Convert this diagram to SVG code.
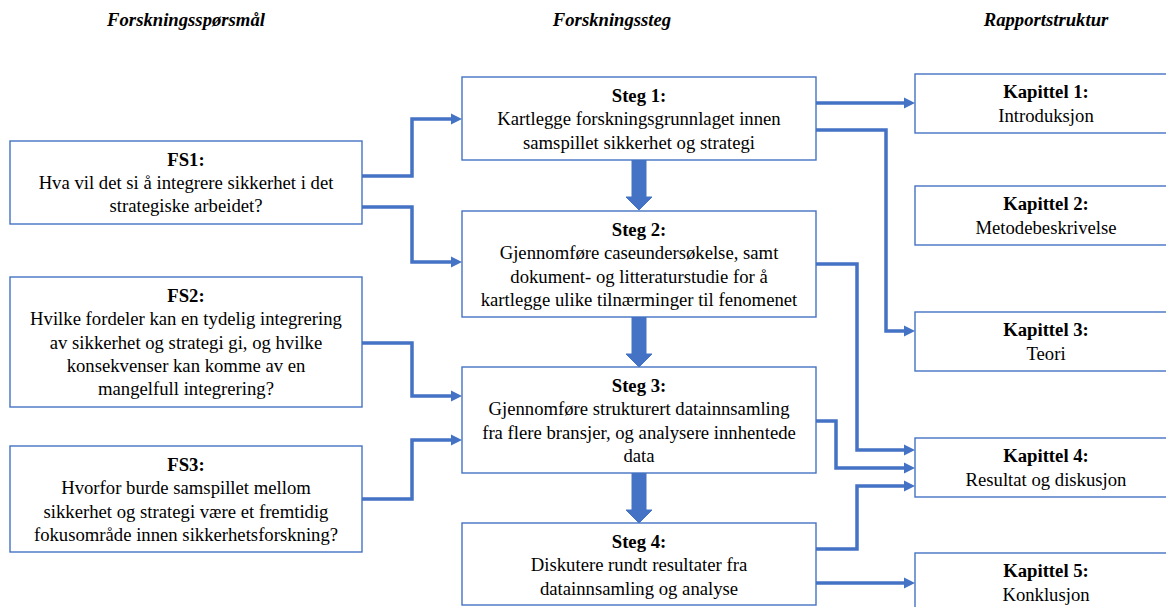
<svg xmlns="http://www.w3.org/2000/svg" width="1166" height="607" viewBox="0 0 1166 607" font-family="Liberation Serif, Times New Roman, Tinos, serif">
  <style>
    .box { fill: #ffffff; stroke: #4472C4; stroke-width: 1.4; }
    .hdr { font-size: 18.7px; font-weight: bold; font-style: italic; fill: #000; text-anchor: middle; }
    .t { font-size: 18.7px; fill: #000; text-anchor: middle; }
    .b { font-weight: bold; }
    .conn { fill: none; stroke: #4472C4; stroke-width: 3.5; stroke-linejoin: miter; marker-end: url(#ah); }
    .block { fill: #4472C4; stroke: #4472C4; stroke-width: 1; }
  </style>
  <defs>
    <marker id="ah" markerUnits="userSpaceOnUse" markerWidth="12" markerHeight="12" refX="0" refY="6" orient="auto">
      <path d="M0,0.5 L11,6 L0,11.5 z" fill="#4472C4"/>
    </marker>
  </defs>

  <rect x="0" y="0" width="1166" height="607" fill="#ffffff"/>

  <!-- column headings -->
  <g id="headings">
    <text class="hdr" x="186" y="26">Forskningsspørsmål</text>
    <text class="hdr" x="612" y="26">Forskningssteg</text>
    <text class="hdr" x="1046" y="26">Rapportstruktur</text>
  </g>

  <!-- connectors -->
  <g id="connectors">
    <path class="conn" d="M362,176 H412 V119 H451"/>
    <path class="conn" d="M362,207 H412 V262 H451"/>
    <path class="conn" d="M362,343 H412 V396 H451"/>
    <path class="conn" d="M362,499 H412 V440 H451"/>
    <path class="conn" d="M816,103 H904"/>
    <path class="conn" d="M816,130 H886 V331 H904"/>
    <path class="conn" d="M816,264 H857 V450 H904"/>
    <path class="conn" d="M816,421 H836 V468 H904"/>
    <path class="conn" d="M816,549 H857 V486 H904"/>
    <path class="conn" d="M816,583 H904"/>
    <!-- block arrows between the steps -->
    <path class="block" d="M632,160 H646 V197 H652 L639,210 L626,197 H632 Z"/>
    <path class="block" d="M632,317 H646 V354 H652 L639,367 L626,354 H632 Z"/>
    <path class="block" d="M632,473 H646 V510 H652 L639,523 L626,510 H632 Z"/>
  </g>

  <!-- research questions -->
  <g id="fs1">
    <rect class="box" x="10" y="141" width="352" height="83"/>
    <text class="t b" x="186" y="166">FS1:</text>
    <text class="t" x="186" y="189">Hva vil det si å integrere sikkerhet i det</text>
    <text class="t" x="186" y="212">strategiske arbeidet?</text>
  </g>
  <g id="fs2">
    <rect class="box" x="10" y="277" width="352" height="130"/>
    <text class="t b" x="186" y="302">FS2:</text>
    <text class="t" x="186" y="325">Hvilke fordeler kan en tydelig integrering</text>
    <text class="t" x="186" y="349">av sikkerhet og strategi gi, og hvilke</text>
    <text class="t" x="186" y="372">konsekvenser kan komme av en</text>
    <text class="t" x="186" y="395">mangelfull integrering?</text>
  </g>
  <g id="fs3">
    <rect class="box" x="10" y="446" width="352" height="106"/>
    <text class="t b" x="186" y="471">FS3:</text>
    <text class="t" x="186" y="494">Hvorfor burde samspillet mellom</text>
    <text class="t" x="186" y="518">sikkerhet og strategi være et fremtidig</text>
    <text class="t" x="186" y="541">fokusområde innen sikkerhetsforskning?</text>
  </g>

  <!-- research steps -->
  <g id="steg1">
    <rect class="box" x="462" y="77" width="354" height="83"/>
    <text class="t b" x="639" y="102">Steg 1:</text>
    <text class="t" x="639" y="125">Kartlegge forskningsgrunnlaget innen</text>
    <text class="t" x="639" y="149">samspillet sikkerhet og strategi</text>
  </g>
  <g id="steg2">
    <rect class="box" x="462" y="211" width="354" height="106"/>
    <text class="t b" x="639" y="236">Steg 2:</text>
    <text class="t" x="639" y="259">Gjennomføre caseundersøkelse, samt</text>
    <text class="t" x="639" y="283">dokument- og litteraturstudie for å</text>
    <text class="t" x="639" y="306">kartlegge ulike tilnærminger til fenomenet</text>
  </g>
  <g id="steg3">
    <rect class="box" x="462" y="367" width="354" height="106"/>
    <text class="t b" x="639" y="392">Steg 3:</text>
    <text class="t" x="639" y="415">Gjennomføre strukturert datainnsamling</text>
    <text class="t" x="639" y="439">fra flere bransjer, og analysere innhentede</text>
    <text class="t" x="639" y="462">data</text>
  </g>
  <g id="steg4">
    <rect class="box" x="462" y="523" width="354" height="82"/>
    <text class="t b" x="639" y="548">Steg 4:</text>
    <text class="t" x="639" y="571">Diskutere rundt resultater fra</text>
    <text class="t" x="639" y="595">datainnsamling og analyse</text>
  </g>

  <!-- report chapters -->
  <g id="kap1">
    <rect class="box" x="915" y="74" width="265" height="59"/>
    <text class="t b" x="1046" y="98">Kapittel 1:</text>
    <text class="t" x="1046" y="122">Introduksjon</text>
  </g>
  <g id="kap2">
    <rect class="box" x="915" y="186" width="265" height="59"/>
    <text class="t b" x="1046" y="210">Kapittel 2:</text>
    <text class="t" x="1046" y="234">Metodebeskrivelse</text>
  </g>
  <g id="kap3">
    <rect class="box" x="915" y="312" width="265" height="59"/>
    <text class="t b" x="1046" y="336">Kapittel 3:</text>
    <text class="t" x="1046" y="360">Teori</text>
  </g>
  <g id="kap4">
    <rect class="box" x="915" y="438" width="265" height="59"/>
    <text class="t b" x="1046" y="462">Kapittel 4:</text>
    <text class="t" x="1046" y="486">Resultat og diskusjon</text>
  </g>
  <g id="kap5">
    <rect class="box" x="915" y="553" width="265" height="70"/>
    <text class="t b" x="1046" y="577">Kapittel 5:</text>
    <text class="t" x="1046" y="601">Konklusjon</text>
  </g>
</svg>
